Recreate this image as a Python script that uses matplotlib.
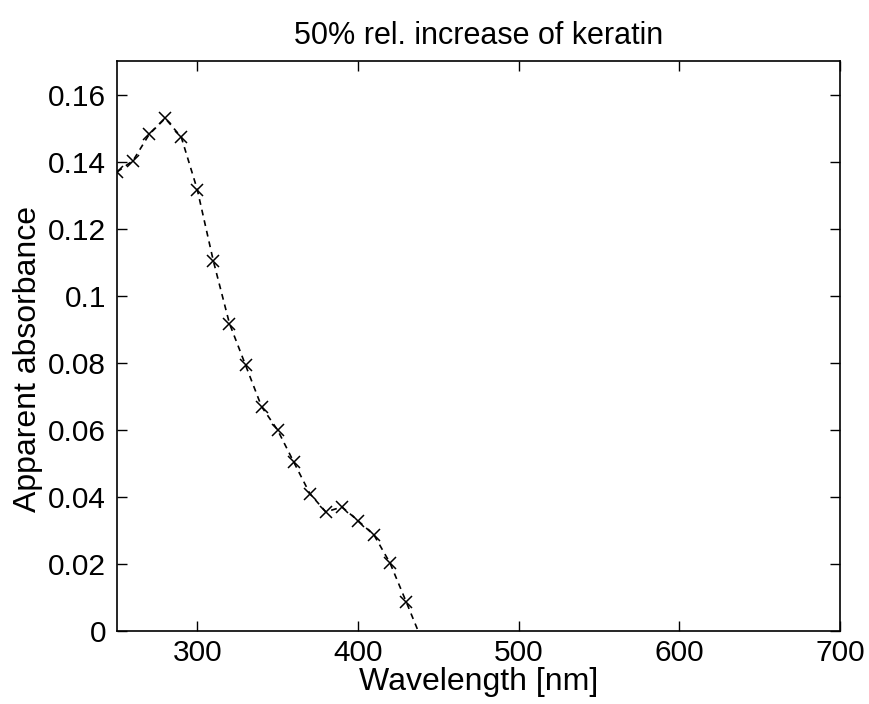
import matplotlib
matplotlib.use("Agg")
import matplotlib.pyplot as plt

wavelength = [250, 260, 270, 280, 290, 300, 310, 320, 330, 340, 350, 360,
              370, 380, 390, 400, 410, 420, 430, 440]
absorbance = [0.1369, 0.1403, 0.1481, 0.1529, 0.1473, 0.1316, 0.1103, 0.0917,
              0.0793, 0.0669, 0.0599, 0.0504, 0.0410, 0.0355, 0.0370, 0.0329,
              0.0286, 0.0202, 0.0087, -0.0030]
xticks = [300, 400, 500, 600, 700]
yticks = [0, 0.02, 0.04, 0.06, 0.08, 0.1, 0.12, 0.14, 0.16]
ytick_labels = ["0", "0.02", "0.04", "0.06", "0.08", "0.1", "0.12", "0.14", "0.16"]

plt.rcParams['font.family'] = ['Liberation Sans', 'DejaVu Sans']

fig = plt.figure(figsize=(8.69, 7.04), dpi=100)
ax = fig.add_axes([117/869, 73/704, (840-117)/869, (631-61)/704])

ax.plot(wavelength, absorbance, color='black', linestyle=(0, (3.5, 3)), linewidth=1.2,
        marker='x', markersize=9, markeredgewidth=1.1)

ax.set_xlim(250, 700)
ax.set_ylim(0, 0.17)
ax.set_xticks(xticks)
ax.set_xticklabels([str(t) for t in xticks])
ax.set_yticks(yticks)
ax.set_yticklabels(ytick_labels)
ax.tick_params(direction='in', length=7, width=1, top=True, right=True,
               labelsize=21.5, pad=6)
ax.tick_params(axis='y', pad=8)
for s in ax.spines.values():
    s.set_linewidth(1.2)

ax.set_title("50% rel. increase of keratin", fontsize=22, pad=12)
ax.set_xlabel("Wavelength [nm]", fontsize=23, labelpad=0)
ax.set_ylabel("Apparent absorbance", fontsize=23)
ax.yaxis.set_label_coords(-0.103, 0.477)

fig.savefig("out.png", dpi=100)
